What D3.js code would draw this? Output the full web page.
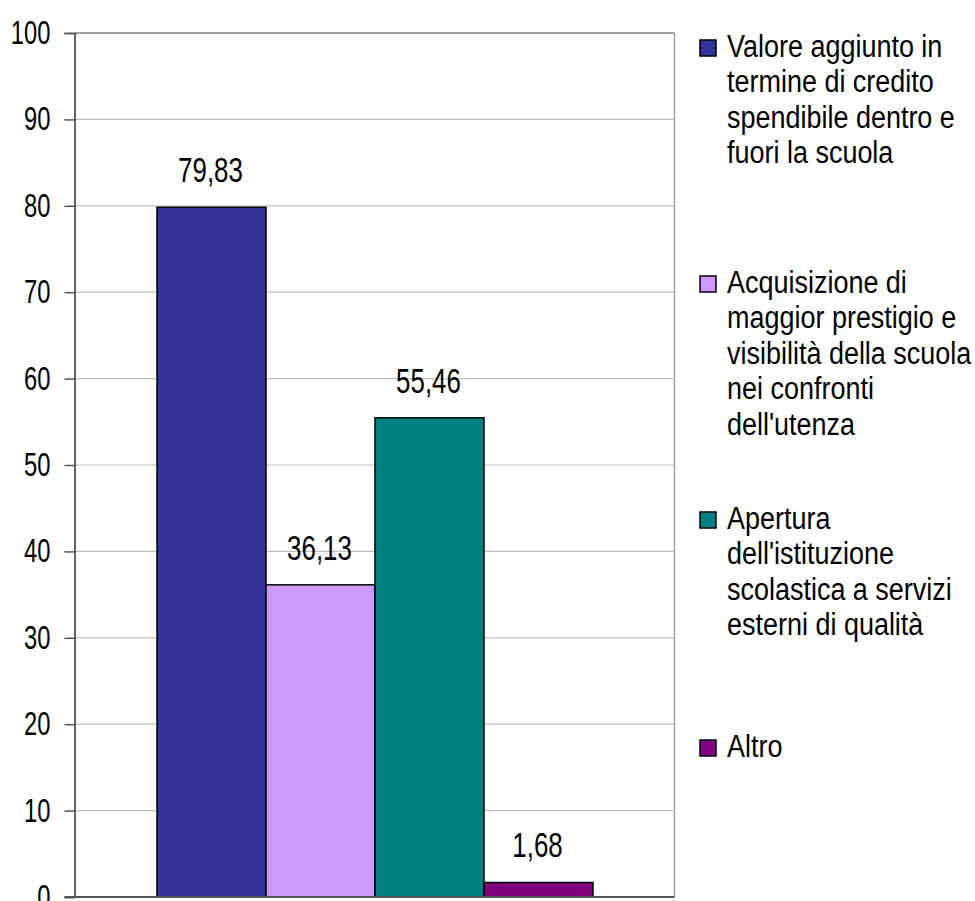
<!DOCTYPE html>
<html lang="it">
<head>
  <meta charset="UTF-8" />
  <title>Grafico a barre</title>
  <script src="https://cdn.jsdelivr.net/npm/d3@7/dist/d3.min.js"></script>
  <style>
    body { margin: 0; background: #fff; font-family: "Liberation Sans", Arial, sans-serif; }
    #viz { width: 975px; height: 901px; }
  </style>
</head>
<body>
  <div id="viz"></div>

  <script>
  // Dati
  const categories = [
    ["Valore aggiunto in", "termine di credito", "spendibile dentro e", "fuori la scuola"],
    ["Acquisizione di", "maggior prestigio e", "visibilità della scuola", "nei confronti", "dell'utenza"],
    ["Apertura", "dell'istituzione", "scolastica a servizi", "esterni di qualità"],
    ["Altro"]
  ];
  const values = [79.83, 36.13, 55.46, 1.68];
  const colors = ["#333399", "#CC99FF", "#008080", "#800080"];
  const yTicks = [0, 10, 20, 30, 40, 50, 60, 70, 80, 90, 100];

  function drawViz() {
    const container = document.getElementById('viz');
    container.innerHTML = '';

    const svg = d3.select(container).append('svg')
      .attr('width', 975)
      .attr('height', 901);

    // area del grafico
    const plot = { left: 74.5, right: 674.5, top: 33, bottom: 897 };

    const y = d3.scaleLinear().domain([0, 100]).range([plot.bottom, plot.top]);
    const x = d3.scaleBand()
      .domain(d3.range(values.length))
      .range([157, 593])
      .paddingInner(0);

    // griglia
    svg.append('g')
      .selectAll('line')
      .data(yTicks.filter(t => t > 0))
      .enter().append('line')
        .attr('x1', plot.left).attr('x2', plot.right)
        .attr('y1', d => y(d))
        .attr('y2', d => y(d))
        .attr('stroke', d => d === 100 ? '#808080' : '#c0c0c0')
        .attr('stroke-width', d => d === 100 ? 1.5 : 1.2);

    // bordo destro
    svg.append('line')
      .attr('x1', plot.right).attr('x2', plot.right)
      .attr('y1', plot.top).attr('y2', plot.bottom)
      .attr('stroke', '#a0a0a0').attr('stroke-width', 1.5);

    // barre
    svg.append('g')
      .selectAll('rect')
      .data(values)
      .enter().append('rect')
        .attr('x', (d, i) => x(i))
        .attr('y', d => y(d))
        .attr('width', x.bandwidth())
        .attr('height', d => y(0) - y(d))
        .attr('fill', (d, i) => colors[i])
        .attr('stroke', '#000')
        .attr('stroke-width', 1.5);

    // etichette valori (testo alto e stretto)
    const lblSx = 0.74;
    svg.append('g')
      .selectAll('text')
      .data(values)
      .enter().append('text')
        .attr('transform', (d, i) => `translate(${x(i) + x.bandwidth() / 2 - 1},${y(d) - 25}) scale(${lblSx},1)`)
        .attr('text-anchor', 'middle')
        .attr('font-size', 35)
        .attr('fill', '#000')
        .text(d => d3.format('.2f')(d).replace('.', ','));

    // asse Y
    const tickSx = 0.72;
    const yAxis = d3.axisLeft(y)
      .tickValues(yTicks)
      .tickSize(10)
      .tickPadding(14)
      .tickFormat(d3.format('d'));
    const gy = svg.append('g')
      .attr('transform', `translate(${plot.left},0)`)
      .call(yAxis);
    gy.select('.domain').attr('stroke', '#333').attr('stroke-width', 1.5);
    gy.selectAll('.tick line').attr('stroke', '#555').attr('stroke-width', 1.5);
    gy.selectAll('.tick text')
      .attr('font-size', 33)
      .attr('font-family', '"Liberation Sans", Arial, sans-serif')
      .attr('fill', '#000')
      .attr('x', -24 / tickSx)
      .attr('dy', null)
      .attr('y', 10.5)
      .attr('transform', `scale(${tickSx},1)`);

    // asse X
    svg.append('line')
      .attr('x1', plot.left - 10).attr('x2', plot.right)
      .attr('y1', plot.bottom).attr('y2', plot.bottom)
      .attr('stroke', '#555').attr('stroke-width', 2);

    // legenda
    const legendY = [57, 293, 529, 757];
    const lineH = 35.5;
    const legSx = 0.87;
    const lg = svg.append('g');
    categories.forEach((lines, i) => {
      const g = lg.append('g').attr('transform', `translate(700,${legendY[i]})`);
      g.append('rect')
        .attr('x', 0).attr('y', -17)
        .attr('width', 16).attr('height', 16)
        .attr('fill', colors[i])
        .attr('stroke', '#000')
        .attr('stroke-width', 1.5);
      const t = g.append('text')
        .attr('transform', `translate(27,0) scale(${legSx},1)`)
        .attr('font-size', 31)
        .attr('fill', '#000');
      lines.forEach((l, j) => {
        t.append('tspan')
          .attr('x', 0)
          .attr('y', j * lineH)
          .text(l);
      });
    });
  }

  document.addEventListener('DOMContentLoaded', drawViz);
  </script>
</body>
</html>
